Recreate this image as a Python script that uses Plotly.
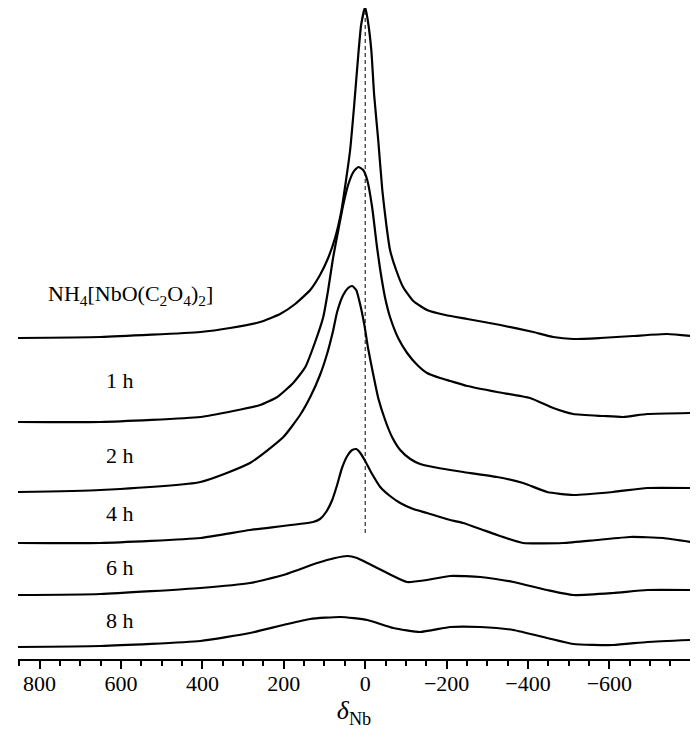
import plotly.graph_objects as go

# ---- data (chemical shift in ppm, stacked intensity in arbitrary units) ----
ppm_nh4 = [853, 651, 405, 332, 258, 209, 172, 135, 111, 91, 74, 59, 47, 37, 27, 17, 10, 0,
           -7, -15, -22, -32, -42, -52, -61, -76, -93, -118, -152, -197, -251, -332, -413,
           -462, -511, -577, -658, -742, -799]
int_nh4 = [321, 322, 327, 331, 337, 345, 355, 369, 384, 401, 421, 447, 479, 509, 554, 604, 634, 652,
           637, 609, 564, 519, 469, 434, 409, 389, 372, 358, 349, 344, 340, 334, 327,
           322, 320, 321, 323, 325, 323]

ppm_1h = [853, 651, 405, 324, 258, 216, 177, 147, 123, 103, 91, 79, 66, 54, 42, 29, 17, 5,
          -5, -17, -29, -37, -49, -61, -81, -103, -128, -152, -184, -209, -251, -324, -405,
          -462, -511, -585, -634, -693, -799]
int_1h = [237, 237, 242, 248, 254, 262, 276, 292, 317, 342, 369, 401, 429, 454, 474, 487, 492, 489,
          479, 452, 412, 389, 361, 342, 321, 306, 294, 286, 281, 278, 273, 267, 261,
          251, 245, 243, 242, 245, 246]

ppm_2h = [853, 651, 405, 283, 201, 160, 135, 111, 93, 79, 69, 54, 42, 32, 22, 12, 2, -7,
          -20, -32, -49, -66, -86, -111, -135, -167, -209, -241, -324, -388, -447, -511,
          -609, -693, -799]
int_2h = [167, 169, 177, 196, 222, 244, 262, 284, 306, 328, 347, 364, 371, 373, 369, 354, 334, 311,
          284, 261, 239, 222, 209, 200, 195, 192, 189, 187, 182, 176, 167, 164,
          167, 171, 171]

ppm_4h = [853, 651, 405, 283, 128, 111, 96, 81, 69, 57, 44, 32, 22, 12, 0, -17, -37, -61,
          -86, -118, -152, -209, -241, -283, -324, -388, -486, -570, -651, -732, -799]
int_4h = [116, 116, 121, 129, 137, 140, 147, 159, 174, 191, 203, 209, 210, 206, 198, 185, 172, 163,
          156, 150, 146, 139, 136, 130, 124, 116, 116, 119, 122, 121, 117]

ppm_6h = [853, 651, 405, 283, 201, 118, 74, 44, 20, -5, -54, -103, -152, -209, -283, -364,
          -447, -511, -609, -693, -799]
int_6h = [64, 65, 71, 76, 84, 96, 101, 103, 101, 96, 86, 77, 79, 83, 82, 77,
          69, 64, 66, 69, 69]

ppm_8h = [853, 651, 405, 283, 201, 135, 61, -5, -69, -135, -209, -283, -364, -447,
          -511, -609, -693, -799]
int_8h = [12, 13, 18, 26, 34, 40, 42, 39, 31, 27, 32, 32, 29, 21,
          15, 14, 17, 19]

series_names = ["NH<sub>4</sub>[NbO(C<sub>2</sub>O<sub>4</sub>)<sub>2</sub>]", "1 h", "2 h", "4 h", "6 h", "8 h"]
series_ppm = [ppm_nh4, ppm_1h, ppm_2h, ppm_4h, ppm_6h, ppm_8h]
series_int = [int_nh4, int_1h, int_2h, int_4h, int_6h, int_8h]
label_ppm = [577, 602, 602, 602, 602, 602]
label_int = [364, 279, 204, 146, 92, 39]

tick_vals = [800, 600, 400, 200, 0, -200, -400, -600]
tick_text = ["800", "600", "400", "200", "0", "\u2212200", "\u2212400", "\u2212600"]

ref_ppm = [0, 0]
ref_int = [126, 650]

FONT = "Liberation Serif, Times New Roman, serif"

fig = go.Figure()
for x, y in zip(series_ppm, series_int):
    fig.add_trace(go.Scatter(x=x, y=y, mode="lines",
                             line=dict(color="black", width=2.2, shape="spline", smoothing=0.5),
                             showlegend=False, hoverinfo="skip"))

fig.add_trace(go.Scatter(x=ref_ppm, y=ref_int, mode="lines",
                         line=dict(color="black", width=1, dash="4px,3px"),
                         showlegend=False, hoverinfo="skip"))

for name, lx, ly in zip(series_names, label_ppm, label_int):
    fig.add_annotation(x=lx, y=ly, text=name, showarrow=False,
                       font=dict(family=FONT, size=22, color="black"),
                       xanchor="center", yanchor="middle")

# page body adds an 8 px offset, so margins are set accordingly
fig.update_layout(
    width=700, height=751,
    margin=dict(l=10, r=18, t=0, b=100, autoexpand=False),
    paper_bgcolor="white", plot_bgcolor="white",
    font=dict(family=FONT, color="black"),
)
fig.update_xaxes(
    range=[853, -798], showgrid=False, zeroline=False, automargin=False,
    showline=True, linecolor="black", linewidth=2,
    tickmode="array", tickvals=tick_vals, ticktext=tick_text,
    ticks="outside", ticklen=8, tickwidth=2, tickcolor="black",
    ticklabelstandoff=-4,
    tickfont=dict(family=FONT, size=22, color="black"),
    minor=dict(dtick=50, tick0=0, ticks="outside", ticklen=5, tickwidth=2, tickcolor="black"),
    title=dict(text="<i>\u03b4</i><sub>Nb</sub>", font=dict(family=FONT, size=26, color="black"), standoff=2),
)
fig.update_yaxes(range=[0, 651], visible=False, showgrid=False, zeroline=False, automargin=False)

fig.write_html("out.html")
